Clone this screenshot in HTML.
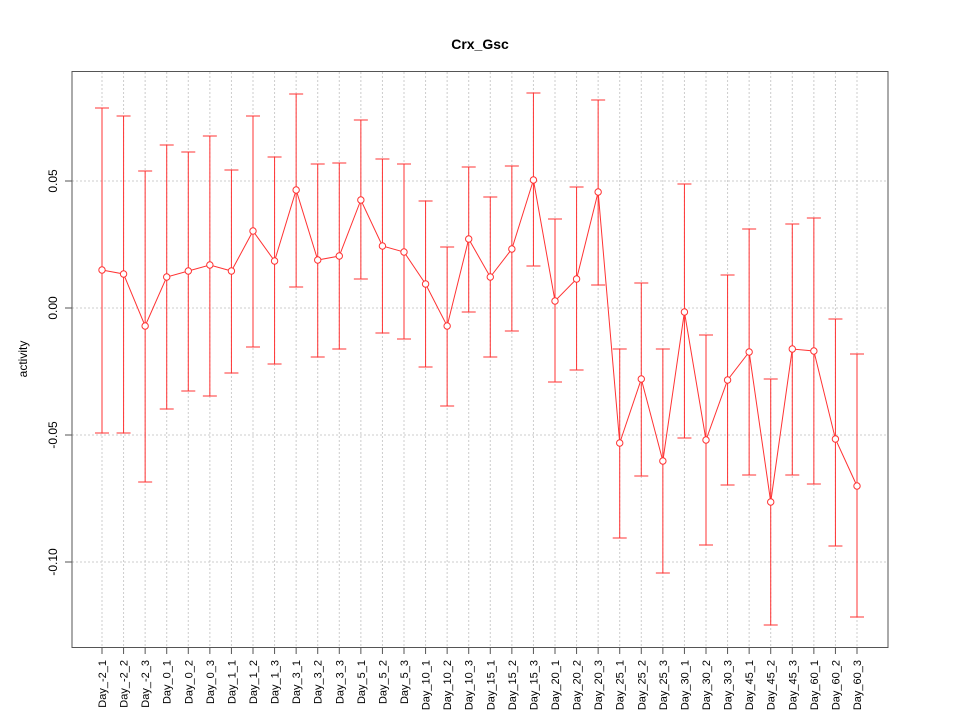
<!DOCTYPE html>
<html><head><style>body{margin:0;background:#fff}</style></head><body>
<svg id="s" width="960" height="720" xmlns="http://www.w3.org/2000/svg" font-family="Liberation Sans, sans-serif">
<rect width="960" height="720" fill="#fff"/>
<text x="480" y="49" text-anchor="middle" font-size="14" font-weight="bold">Crx_Gsc</text>
<text transform="translate(27,359) rotate(-90)" text-anchor="middle" font-size="12">activity</text>
<g id="g"></g>
<rect x="72" y="71.5" width="816" height="576" fill="none" stroke="#555" stroke-width="1"/>
</svg>
<script>
var labels=["Day_-2_1","Day_-2_2","Day_-2_3","Day_0_1","Day_0_2","Day_0_3","Day_1_1","Day_1_2","Day_1_3","Day_3_1","Day_3_2","Day_3_3","Day_5_1","Day_5_2","Day_5_3","Day_10_1","Day_10_2","Day_10_3","Day_15_1","Day_15_2","Day_15_3","Day_20_1","Day_20_2","Day_20_3","Day_25_1","Day_25_2","Day_25_3","Day_30_1","Day_30_2","Day_30_3","Day_45_1","Day_45_2","Day_45_3","Day_60_1","Day_60_2","Day_60_3"];
var d=[[270,108,433],[274,116,433],[326,171,482],[277,145,409],[271,152,391],[265,136,396],[271,170,373],[231,116,347],[261,157,364],[190,94,287],[260,164,357],[256,163,349],[200,120,279],[246,159,333],[252,164,339],[284,201,367],[326,247,406],[239,167,312],[277,197,357],[249,166,331],[180,93,266],[301,219,382],[279,187,370],[192,100,285],[443,349,538],[379,283,476],[461,349,573],[312,184,438],[440,335,545],[380,275,485],[352,229,475],[502,379,625],[349,224,475],[351,218,484],[439,319,546],[486,354,617]];
var n=labels.length,x0=102,x1=857,dx=(x1-x0)/(n-1),h='';
var yt=[[181,'0.05'],[308,'0.00'],[435,'-0.05'],[562,'-0.10']];
yt.forEach(function(t){h+='<line x1="72" x2="888" y1="'+t[0]+'" y2="'+t[0]+'" stroke="#ccc" stroke-dasharray="2,2"/>';
h+='<line x1="65" x2="72" y1="'+t[0]+'" y2="'+t[0]+'" stroke="#555"/>';
h+='<text transform="translate(57,'+t[0]+') rotate(-90)" text-anchor="middle" font-size="12">'+t[1]+'</text>';});
var pts=[];
for(var i=0;i<n;i++){var x=x0+i*dx;
h+='<line x1="'+x+'" x2="'+x+'" y1="72" y2="647" stroke="#ccc" stroke-dasharray="2,2"/>';
h+='<line x1="'+x+'" x2="'+x+'" y1="647" y2="654" stroke="#555"/>';
h+='<text transform="translate('+(x+4)+',660) rotate(-90)" text-anchor="end" font-size="11">'+labels[i]+'</text>';
var a=d[i];
h+='<line x1="'+x+'" x2="'+x+'" y1="'+a[1]+'" y2="'+a[2]+'" stroke="#f33"/>';
h+='<line x1="'+(x-7)+'" x2="'+(x+7)+'" y1="'+a[1]+'" y2="'+a[1]+'" stroke="#f33"/>';
h+='<line x1="'+(x-7)+'" x2="'+(x+7)+'" y1="'+a[2]+'" y2="'+a[2]+'" stroke="#f33"/>';
pts.push(x+','+a[0]);}
h+='<polyline points="'+pts.join(' ')+'" fill="none" stroke="#f33"/>';
for(var i=0;i<n;i++){h+='<circle cx="'+(x0+i*dx)+'" cy="'+d[i][0]+'" r="3.2" fill="#fff" stroke="#f33"/>';}
document.getElementById('g').innerHTML=h;
</script>
</body></html>
